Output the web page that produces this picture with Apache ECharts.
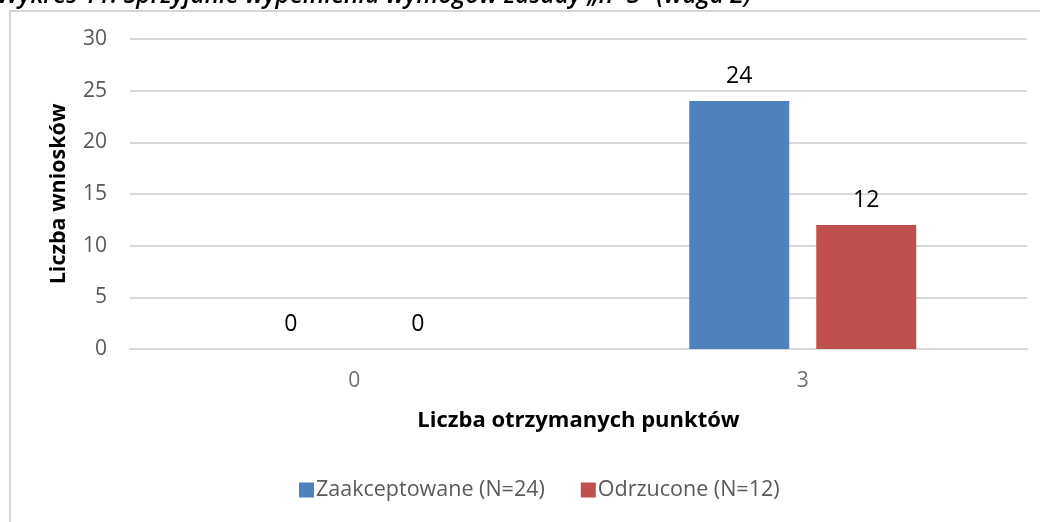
<!DOCTYPE html>
<html>
<head>
<meta charset="utf-8">
<style>
  html, body { margin: 0; padding: 0; background: #ffffff; }
  #chart { width: 1040px; height: 522px; }
</style>
<script src="https://cdn.jsdelivr.net/npm/echarts@6/dist/echarts.min.js"></script>
</head>
<body>
<div id="chart"></div>
<script>
// dane wykresu
var categories = ['0', '3'];
var zaakceptowane = [0, 24];
var odrzucone = [0, 12];
var seriesNames = ['Zaakceptowane (N=24)', 'Odrzucone (N=12)'];
var yTicks = { min: 0, max: 30, interval: 5 };

var fontName = '"Open Sans", "DejaVu Sans", sans-serif';

var myChart = echarts.init(document.getElementById('chart'));

var option = {
  backgroundColor: '#ffffff',
  animation: false,
  textStyle: { fontFamily: fontName },
  graphic: [
    {
      // ramka obszaru wykresu
      type: 'rect',
      shape: { x: 10, y: 11, width: 1200, height: 700 },
      style: { fill: '#ffffff', stroke: '#d6d6d6', lineWidth: 2 },
      z: -10
    },
    {
      // tytuł ucięty u góry
      type: 'text',
      left: -3,
      top: -16,
      style: {
        text: 'Wykres 11. Sprzyjanie wypełnieniu wymogów zasady „n+3” (waga 2)',
        font: 'italic 600 24.5px ' + fontName,
        fill: '#000000'
      }
    }
  ],
  grid: { left: 130, right: 13, top: 39, bottom: 173 },
  legend: {
    bottom: 16,
    left: 294,
    itemWidth: 15,
    itemHeight: 15,
    itemGap: 36,
    icon: 'rect',
    textStyle: { color: '#595959', fontSize: 21.5, padding: [0, 0, 0, -3] },
    data: seriesNames
  },
  xAxis: {
    type: 'category',
    data: categories,
    name: 'Liczba otrzymanych punktów',
    nameLocation: 'middle',
    nameGap: 61,
    nameTextStyle: { color: '#000000', fontSize: 22, fontWeight: 'bold' },
    axisLine: { show: true, lineStyle: { color: '#d9d9d9', width: 2 } },
    axisTick: { show: false },
    axisLabel: { color: '#6e6e6e', fontSize: 21, margin: 22 }
  },
  yAxis: {
    type: 'value',
    min: yTicks.min,
    max: yTicks.max,
    interval: yTicks.interval,
    name: 'Liczba wniosków',
    nameLocation: 'middle',
    nameGap: 60,
    nameTextStyle: { color: '#000000', fontSize: 21.5, fontWeight: 'bold' },
    axisLine: { show: false },
    axisTick: { show: false },
    axisLabel: { color: '#595959', fontSize: 21, margin: 23 },
    splitLine: { lineStyle: { color: '#d9d9d9', width: 2 } }
  },
  series: [
    {
      name: seriesNames[0],
      type: 'bar',
      data: zaakceptowane,
      barWidth: 100,
      barGap: '27%',
      itemStyle: { color: '#4f81bd' },
      label: { show: true, position: 'top', distance: 13, color: '#000000', fontSize: 23 }
    },
    {
      name: seriesNames[1],
      type: 'bar',
      data: odrzucone,
      barWidth: 100,
      itemStyle: { color: '#c0504d' },
      label: { show: true, position: 'top', distance: 13, color: '#000000', fontSize: 23 }
    }
  ]
};

myChart.setOption(option);
</script>
</body>
</html>
